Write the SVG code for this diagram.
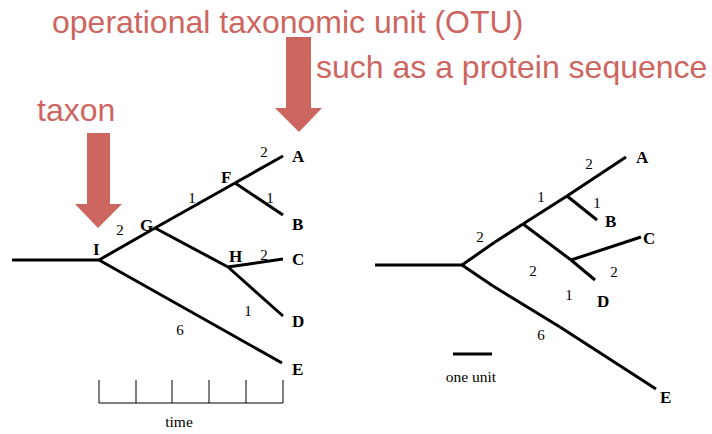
<svg xmlns="http://www.w3.org/2000/svg" width="712" height="434" viewBox="0 0 712 434">
<style>
.note{font-family:"Liberation Sans",Arial,sans-serif;font-size:32px;fill:#cd665f}
.arrow{fill:#cd665f}
.br{stroke:#000;stroke-width:3;fill:none;stroke-linecap:butt}
.lbl{font-family:"Liberation Serif","Times New Roman",serif;font-size:17px;font-weight:bold;fill:#000}
.num{font-family:"Liberation Serif","Times New Roman",serif;font-size:15px;fill:#000;text-anchor:middle}
.axis{stroke:#000;stroke-width:1;fill:none}
.cap{font-family:"Liberation Serif","Times New Roman",serif;font-size:15.5px;fill:#000;text-anchor:middle}
</style>
<rect width="712" height="434" fill="#fff"/>
<g id="annotations">
<text class="note" x="52" y="33">operational taxonomic unit (OTU)</text>
<text class="note" x="316" y="78">such as a protein sequence</text>
<text class="note" x="37" y="121">taxon</text>
<polygon id="arrow-otu" class="arrow" points="286,37 311,37 311,108 322,108 299,132 275,108 286,108"/>
<polygon id="arrow-taxon" class="arrow" points="87,133 110,133 110,204 122,204 98,228 75,204 87,204"/>
</g>
<g id="connectors">
<g id="tree1">
<path class="br" d="M12,260 L99,260"/>
<path class="br" d="M99,260 L155,228"/>
<path class="br" d="M155,228 L235,183"/>
<path class="br" d="M235,183 L283,156"/>
<path class="br" d="M235,183 L283,215"/>
<path class="br" d="M155,228 L228,267"/>
<path class="br" d="M228,267 L283,259"/>
<path class="br" d="M228,267 L283,316"/>
<path class="br" d="M99,260 L282,363"/>
</g>
<g id="tree2">
<path class="br" d="M375,265 L462,265"/>
<path class="br" d="M462,265 L495,242"/>
<path class="br" d="M495,242 L523,224"/>
<path class="br" d="M523,224 L567,196"/>
<path class="br" d="M567,196 L626,157"/>
<path class="br" d="M567,196 L597,220"/>
<path class="br" d="M523,224 L571,260"/>
<path class="br" d="M571,260 L595,280"/>
<path class="br" d="M571,260 L641,237"/>
<path class="br" d="M462,265 L493,286"/>
<path class="br" d="M493,286 L560,327"/>
<path class="br" d="M560,327 L656,389"/>
</g>
</g>
<g id="node-I"><text class="lbl" x="93" y="255">I</text></g>
<g id="node-G"><text class="lbl" x="140" y="231">G</text></g>
<g id="node-F"><text class="lbl" x="221" y="183">F</text></g>
<g id="node-H"><text class="lbl" x="229" y="262">H</text></g>
<g id="node-A"><text class="lbl" x="292" y="162">A</text></g>
<g id="node-B"><text class="lbl" x="292" y="230">B</text></g>
<g id="node-C"><text class="lbl" x="292" y="265">C</text></g>
<g id="node-D"><text class="lbl" x="292" y="327">D</text></g>
<g id="node-E"><text class="lbl" x="292" y="375">E</text></g>
<g id="lengths1">
<text class="num" x="264" y="157">2</text>
<text class="num" x="270" y="203">1</text>
<text class="num" x="192" y="203">1</text>
<text class="num" x="120" y="235">2</text>
<text class="num" x="264" y="260">2</text>
<text class="num" x="248" y="316">1</text>
<text class="num" x="180" y="335">6</text>
</g>
<g id="timescale">
<path class="axis" d="M99,380 V403 H283 V380 M136,380 V403 M172,380 V403 M209,380 V403 M246,380 V403"/>
<text class="cap" x="179" y="427">time</text>
</g>
<g id="node2-A"><text class="lbl" x="636" y="163">A</text></g>
<g id="node2-B"><text class="lbl" x="605" y="227">B</text></g>
<g id="node2-C"><text class="lbl" x="643" y="244">C</text></g>
<g id="node2-D"><text class="lbl" x="597" y="307">D</text></g>
<g id="node2-E"><text class="lbl" x="660" y="403">E</text></g>
<g id="lengths2">
<text class="num" x="589" y="169">2</text>
<text class="num" x="541" y="202">1</text>
<text class="num" x="597" y="208">1</text>
<text class="num" x="480" y="242">2</text>
<text class="num" x="533" y="276">2</text>
<text class="num" x="614" y="277">2</text>
<text class="num" x="569" y="300">1</text>
<text class="num" x="541" y="340">6</text>
</g>
<g id="scalebar">
<path class="br" d="M453,354 H492"/>
<text class="cap" x="471" y="382">one unit</text>
</g>
</svg>
